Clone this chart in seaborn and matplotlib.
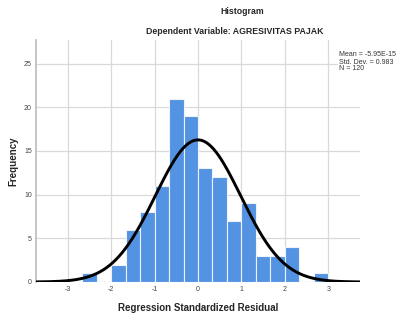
import numpy as np
import pandas as pd
import matplotlib
matplotlib.use("Agg")
import matplotlib.pyplot as plt
import seaborn as sns

bin_edges = [-2.667, -2.333, -2.0, -1.667, -1.333, -1.0, -0.667, -0.333, 0.0,
             0.333, 0.667, 1.0, 1.333, 1.667, 2.0, 2.333, 2.667, 3.0]
counts = [1, 0, 2, 6, 8, 11, 21, 19, 13, 12, 7, 9, 3, 3, 4, 0, 1]
mean_val = -5.95e-15
std_val = 0.983
n_val = 120
x_ticks = [-3, -2, -1, 0, 1, 2, 3]
y_ticks = [0, 5, 10, 15, 20, 25]

edges = np.array(bin_edges)
centers = (edges[:-1] + edges[1:]) / 2
df = pd.DataFrame({"resid": centers, "count": counts})

sns.set_style("white")
plt.rcParams['font.family'] = ['Liberation Sans', 'DejaVu Sans']

fig = plt.figure(figsize=(4.12, 3.18), dpi=100)
ax = fig.add_axes([36/412, 1-282/318, (360-36)/412, (282-40)/318])

for yv in y_ticks:
    ax.axhline(yv, color="#d9d9d9", lw=0.9, zorder=0)
for xv in x_ticks:
    ax.axvline(xv, color="#d9d9d9", lw=0.9, zorder=0)

sns.histplot(data=df, x="resid", weights="count", bins=list(bin_edges), ax=ax,
             color="#5393E2", alpha=1, edgecolor="#eef2fa", linewidth=0.8, zorder=2)

width = edges[1] - edges[0]
xs = np.linspace(-3.75, 3.75, 400)
pdf = n_val * width * np.exp(-0.5 * ((xs - mean_val) / std_val) ** 2) / (std_val * np.sqrt(2 * np.pi))
curve = pd.DataFrame({"x": xs, "y": pdf})
sns.lineplot(data=curve, x="x", y="y", ax=ax, color="black", lw=2.1, zorder=3)

ax.set_xlim(-3.73, 3.73)
ax.set_ylim(0, 27.7)
ax.set_xticks(x_ticks)
ax.set_yticks(y_ticks)
ax.set_xticklabels([str(t) for t in x_ticks])
ax.set_yticklabels([str(t) for t in y_ticks])
ax.tick_params(axis="both", labelsize=5, colors="#444444", length=0, pad=3)
for s in ["top", "right", "bottom"]:
    ax.spines[s].set_visible(False)
ax.spines["left"].set_color("#bbbbbb")
ax.spines["left"].set_linewidth(1.2)

ax.set_xlabel("Regression Standardized Residual", fontsize=7, fontweight="bold", labelpad=7)
ax.set_ylabel("Frequency", fontsize=7, fontweight="bold", labelpad=4)

fig.text(242/412, 1 - 12/318, "Histogram", ha="center", va="center",
         fontsize=6.3, fontweight="bold")
fig.text(235/412, 1 - 32/318, "Dependent Variable: AGRESIVITAS PAJAK",
         ha="center", va="center", fontsize=6.3, fontweight="bold")

fig.text(339/412, 1 - 62/318,
         f"Mean = -5.95E-15\nStd. Dev. = {std_val:.3f}\nN = {n_val}",
         ha="left", va="center", fontsize=5, color="#333333", linespacing=1.0,
         bbox=dict(facecolor="white", edgecolor="none", pad=1))

fig.savefig("out.png", dpi=100)
